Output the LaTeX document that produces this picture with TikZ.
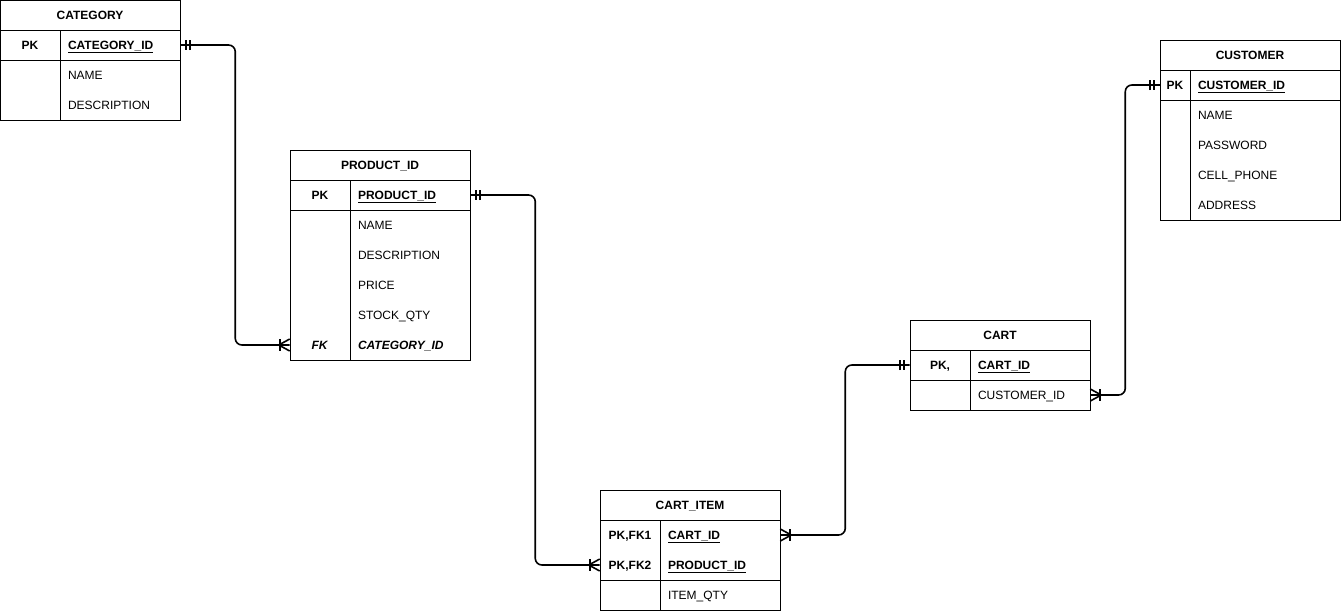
\documentclass[tikz,border=0pt]{standalone}
\usepackage{fontspec}
\setmainfont{Liberation Sans}
\usetikzlibrary{positioning}

\begin{document}
\begin{tikzpicture}[
    x=0.75pt, y=-0.75pt,
    font=\fontsize{9pt}{11pt}\selectfont
]
\tikzset{
    tabframe/.style = {draw=black, line width=0.75pt},
    tabhead/.style = {minimum width=135pt, minimum height=22.5pt, inner sep=0pt, text height=7.5pt, text depth=1pt, font=\fontsize{9pt}{11pt}\selectfont\bfseries},
    keycell/.style = {minimum width=45pt, minimum height=22.5pt, inner sep=0pt, text height=7.5pt, text depth=1pt, font=\fontsize{9pt}{11pt}\selectfont\bfseries},
    keycellnarrow/.style = {keycell, minimum width=22.5pt},
    fieldcell/.style = {text width=78pt, inner xsep=6pt, inner ysep=0pt, minimum height=22.5pt, text height=7.5pt, text depth=1pt, align=left},
    fieldcellwide/.style = {fieldcell, text width=100.5pt},
    rel/.style = {line width=1.2pt, rounded corners=5pt},
    relmark/.style = {line width=1.2pt}
}
\useasboundingbox (0,0) rectangle (1341,611);

% CATEGORY
\node[tabhead] (cat) at (90,15) {CATEGORY};
\node[keycell] (cat-pk) at (30,45) {PK};
\node[fieldcell] (cat-id) at (120,45) {\textbf{\underline{CATEGORY\_ID}}};
\node[fieldcell] (cat-name) at (120,75) {NAME};
\node[fieldcell] (cat-desc) at (120,105) {DESCRIPTION};
\draw[tabframe] (0,0) rectangle (180,120);
\draw[tabframe] (0,30) -- (180,30) (0,60) -- (180,60) (60,30) -- (60,120);

% PRODUCT
\node[tabhead] (prod) at (380,165) {PRODUCT\_ID};
\node[keycell] (prod-pk) at (320,195) {PK};
\node[fieldcell] (prod-id) at (410,195) {\textbf{\underline{PRODUCT\_ID}}};
\node[fieldcell] (prod-name) at (410,225) {NAME};
\node[fieldcell] (prod-desc) at (410,255) {DESCRIPTION};
\node[fieldcell] (prod-price) at (410,285) {PRICE};
\node[fieldcell] (prod-stock) at (410,315) {STOCK\_QTY};
\node[keycell] (prod-fk) at (320,345) {\textit{FK}};
\node[fieldcell] (prod-cat) at (410,345) {\textbf{\textit{CATEGORY\_ID}}};
\draw[tabframe] (290,150) rectangle (470,360);
\draw[tabframe] (290,180) -- (470,180) (290,210) -- (470,210) (350,180) -- (350,360);

% CART_ITEM
\node[tabhead] (item) at (690,505) {CART\_ITEM};
\node[keycell] (item-fk1) at (630,535) {PK,FK1};
\node[fieldcell] (item-cart) at (720,535) {\textbf{\underline{CART\_ID}}};
\node[keycell] (item-fk2) at (630,565) {PK,FK2};
\node[fieldcell] (item-prod) at (720,565) {\textbf{\underline{PRODUCT\_ID}}};
\node[fieldcell] (item-qty) at (720,595) {ITEM\_QTY};
\draw[tabframe] (600,490) rectangle (780,610);
\draw[tabframe] (600,520) -- (780,520) (600,580) -- (780,580) (660,520) -- (660,610);

% CART
\node[tabhead] (cart) at (1000,335) {CART};
\node[keycell] (cart-pk) at (940,365) {PK,};
\node[fieldcell] (cart-id) at (1030,365) {\textbf{\underline{CART\_ID}}};
\node[fieldcell] (cart-cust) at (1030,395) {CUSTOMER\_ID};
\draw[tabframe] (910,320) rectangle (1090,410);
\draw[tabframe] (910,350) -- (1090,350) (910,380) -- (1090,380) (970,350) -- (970,410);

% CUSTOMER
\node[tabhead] (cust) at (1250,55) {CUSTOMER};
\node[keycellnarrow] (cust-pk) at (1175,85) {PK};
\node[fieldcellwide] (cust-id) at (1265,85) {\textbf{\underline{CUSTOMER\_ID}}};
\node[fieldcellwide] (cust-name) at (1265,115) {NAME};
\node[fieldcellwide] (cust-pass) at (1265,145) {PASSWORD};
\node[fieldcellwide] (cust-phone) at (1265,175) {CELL\_PHONE};
\node[fieldcellwide] (cust-addr) at (1265,205) {ADDRESS};
\draw[tabframe] (1160,40) rectangle (1340,220);
\draw[tabframe] (1160,70) -- (1340,70) (1160,100) -- (1340,100) (1190,70) -- (1190,220);

% relations
\draw[rel] (cat-id.east) -- ++(55,0) |- (prod-fk.west);
\draw[rel] (prod-id.east) -- ++(65,0) |- (item-fk2.west);
\draw[rel] (item-cart.east) -- ++(65,0) |- (cart-pk.west);
\draw[rel] (cart-cust.east) -- ++(35,0) |- (cust-pk.west);

% mandatory one
\draw[relmark] (cat-id.east) ++(6,-5) -- ++(0,10) ++(4,0) -- ++(0,-10);
\draw[relmark] (prod-id.east) ++(6,-5) -- ++(0,10) ++(4,0) -- ++(0,-10);
\draw[relmark] (cart-pk.west) ++(-6,-5) -- ++(0,10) ++(-4,0) -- ++(0,-10);
\draw[relmark] (cust-pk.west) ++(-6,-5) -- ++(0,10) ++(-4,0) -- ++(0,-10);

% one or many
\draw[relmark] (prod-fk.west) ++(0,-6) -- ++(-11,6) -- ++(11,6);
\draw[relmark] (prod-fk.west) ++(-10,-6) -- ++(0,12);
\draw[relmark] (item-fk2.west) ++(0,-6) -- ++(-11,6) -- ++(11,6);
\draw[relmark] (item-fk2.west) ++(-10,-6) -- ++(0,12);
\draw[relmark] (item-cart.east) ++(0,-6) -- ++(11,6) -- ++(-11,6);
\draw[relmark] (item-cart.east) ++(10,-6) -- ++(0,12);
\draw[relmark] (cart-cust.east) ++(0,-6) -- ++(11,6) -- ++(-11,6);
\draw[relmark] (cart-cust.east) ++(10,-6) -- ++(0,12);
\end{tikzpicture}
\end{document}
